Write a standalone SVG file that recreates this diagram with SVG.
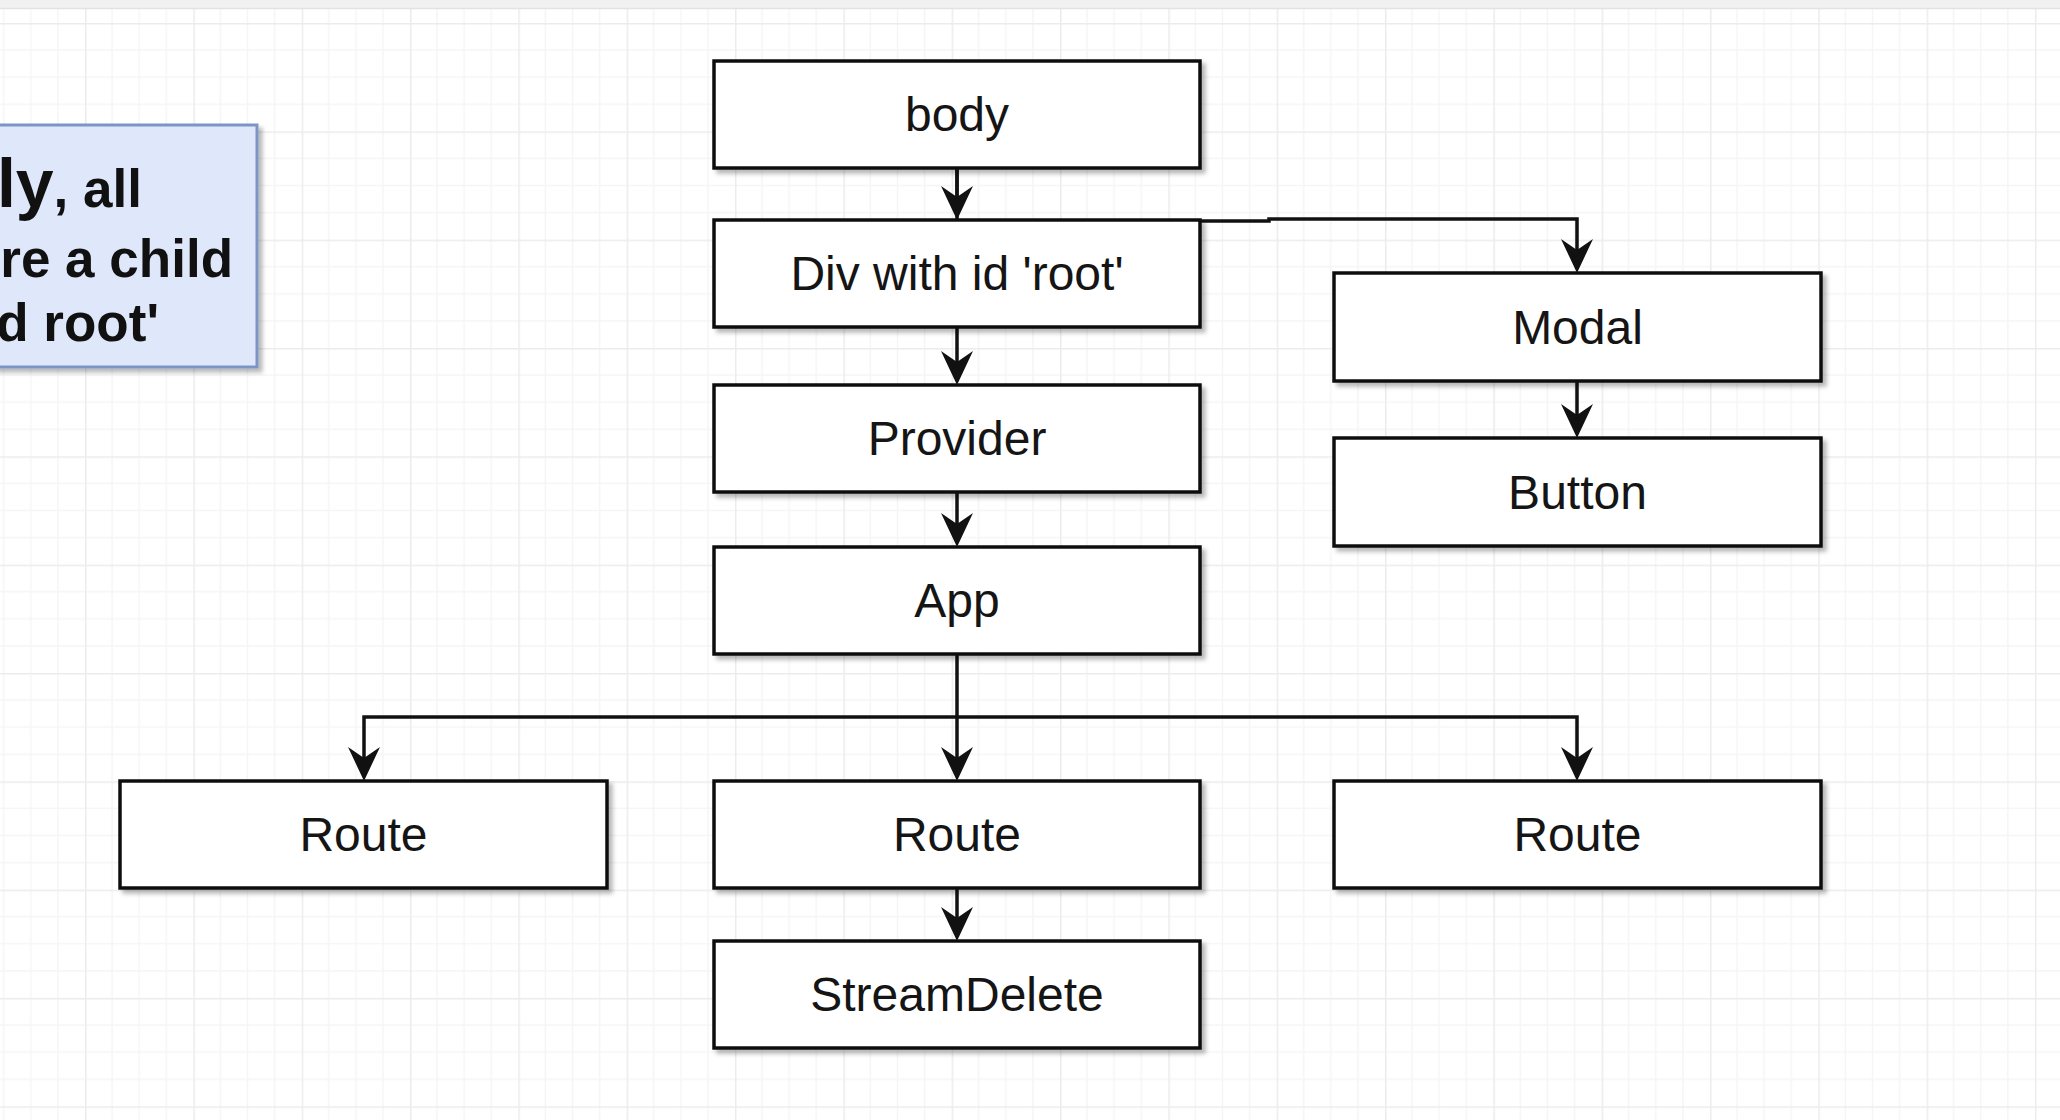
<svg xmlns="http://www.w3.org/2000/svg" width="2060" height="1120" viewBox="0 0 2060 1120">
  <style>
    .box { fill: #ffffff; stroke: #111111; stroke-width: 3.5; filter: url(#shadow); }
    .lbl { font-family: "Liberation Sans", Arial, sans-serif; font-size: 48px; fill: #151515; text-anchor: middle; }
    .note { fill: #dfe8fa; stroke: #7d95c4; stroke-width: 3; filter: url(#shadow); }
    .ntxt { font-family: "Liberation Sans", Arial, sans-serif; font-weight: bold; font-size: 53px; fill: #111111; text-anchor: end; }
    .edge { fill: none; stroke: #111111; stroke-width: 3.5; }
  </style>
  <defs>
    <pattern id="grid" patternUnits="userSpaceOnUse" x="85" y="23" width="108.33" height="108.33">
      <path d="M27.08,0 V108.33 M54.17,0 V108.33 M81.25,0 V108.33 M0,27.08 H108.33 M0,54.17 H108.33 M0,81.25 H108.33" stroke="#f5f5f5" stroke-width="1.5" fill="none"/>
      <path d="M0.75,0 V108.33 M0,0.75 H108.33" stroke="#ececec" stroke-width="1.5" fill="none"/>
    </pattern>
    <filter id="shadow" x="-5%" y="-10%" width="115%" height="130%">
      <feDropShadow dx="4" dy="4" stdDeviation="2" flood-color="#000000" flood-opacity="0.28"/>
    </filter>
    <marker id="arrow" markerUnits="userSpaceOnUse" viewBox="0 0 34 32" refX="24" refY="16" markerWidth="34" markerHeight="32" orient="auto">
      <path d="M0,0 L34,16 L0,32 L11,16 Z" fill="#111111"/>
    </marker>
  </defs>

  <rect x="0" y="0" width="2060" height="1120" fill="#ffffff"/>
  <rect x="0" y="0" width="2060" height="1120" fill="url(#grid)"/>
  <rect x="0" y="0" width="2060" height="8" fill="#f1f1f1"/>
  <line x1="0" y1="8.5" x2="2060" y2="8.5" stroke="#e2e2e2" stroke-width="1.5"/>

  <g id="note">
    <rect class="note" x="-20" y="125" width="277" height="242"/>
    <text class="ntxt" x="142" y="207"><tspan font-size="68px">ly</tspan>, all</text>
    <text class="ntxt" x="233" y="277">re a child</text>
    <text class="ntxt" x="159" y="341">d root'</text>
  </g>

  <g id="connectors">
    <path class="edge" d="M957,168 V210" marker-end="url(#arrow)"/>
    <path class="edge" d="M957,168 V221 H1269 V219 H1577 V263" marker-end="url(#arrow)"/>
    <path class="edge" d="M957,327 V375" marker-end="url(#arrow)"/>
    <path class="edge" d="M957,492 V537" marker-end="url(#arrow)"/>
    <path class="edge" d="M1577,381 V428" marker-end="url(#arrow)"/>
    <path class="edge" d="M957,654 V771" marker-end="url(#arrow)"/>
    <path class="edge" d="M957,717 H364 V771" marker-end="url(#arrow)"/>
    <path class="edge" d="M957,717 H1577 V771" marker-end="url(#arrow)"/>
    <path class="edge" d="M957,888 V931" marker-end="url(#arrow)"/>
  </g>

  <g id="body">
    <rect class="box" x="714" y="61" width="486" height="107"/>
    <text class="lbl" x="957" y="131">body</text>
  </g>
  <g id="div-root">
    <rect class="box" x="714" y="220" width="486" height="107"/>
    <text class="lbl" x="957" y="290">Div with id 'root'</text>
  </g>
  <g id="provider">
    <rect class="box" x="714" y="385" width="486" height="107"/>
    <text class="lbl" x="957" y="455">Provider</text>
  </g>
  <g id="app">
    <rect class="box" x="714" y="547" width="486" height="107"/>
    <text class="lbl" x="957" y="617">App</text>
  </g>
  <g id="modal">
    <rect class="box" x="1334" y="273" width="487" height="108"/>
    <text class="lbl" x="1577.5" y="344">Modal</text>
  </g>
  <g id="button">
    <rect class="box" x="1334" y="438" width="487" height="108"/>
    <text class="lbl" x="1577.5" y="509">Button</text>
  </g>
  <g id="route-left">
    <rect class="box" x="120" y="781" width="487" height="107"/>
    <text class="lbl" x="363.5" y="851">Route</text>
  </g>
  <g id="route-middle">
    <rect class="box" x="714" y="781" width="486" height="107"/>
    <text class="lbl" x="957" y="851">Route</text>
  </g>
  <g id="route-right">
    <rect class="box" x="1334" y="781" width="487" height="107"/>
    <text class="lbl" x="1577.5" y="851">Route</text>
  </g>
  <g id="stream-delete">
    <rect class="box" x="714" y="941" width="486" height="107"/>
    <text class="lbl" x="957" y="1011">StreamDelete</text>
  </g>
</svg>
